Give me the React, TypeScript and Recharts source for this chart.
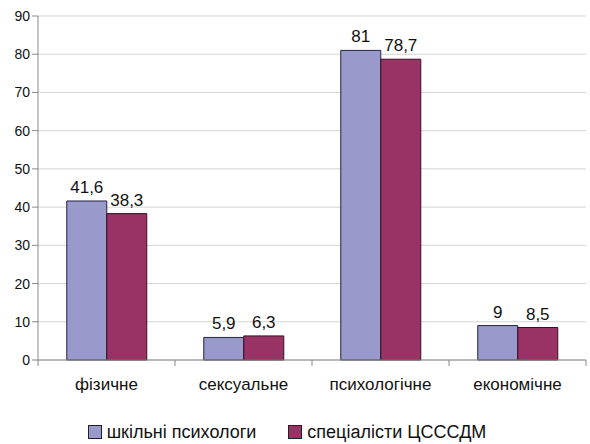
import React from 'react';
import { BarChart, Bar, XAxis, YAxis, CartesianGrid, Legend, LabelList } from 'recharts';

const categories = ['фізичне', 'сексуальне', 'психологічне', 'економічне'];
const schoolPsychologists = [41.6, 5.9, 81, 9];
const centerSpecialists = [38.3, 6.3, 78.7, 8.5];
const yTicks = [0, 10, 20, 30, 40, 50, 60, 70, 80, 90];
const seriesNames = ['шкільні психологи', 'спеціалісти ЦСССДМ'];
const seriesColors = ['#9999cc', '#993366'];

const data = categories.map((name, i) => ({
  name,
  school: schoolPsychologists[i],
  center: centerSpecialists[i],
}));

const font = '"Liberation Sans", Arial, sans-serif';
const fmt = (v: any) => String(v).replace('.', ',');

const CategoryTick = (props: any) => {
  const { x, y, payload, index } = props;
  const half = 137 / 2;
  return (
    <g>
      <line x1={x - half} y1={y - 8} x2={x - half} y2={y - 2} stroke="#888" />
      {index === categories.length - 1 && (
        <line x1={x + half} y1={y - 8} x2={x + half} y2={y - 2} stroke="#888" />
      )}
      <text x={x} y={y + 22} textAnchor="middle" fontSize={17} fill="#111" fontFamily={font}>
        {payload.value}
      </text>
    </g>
  );
};

const LegendContent = () => (
  <div
    style={{
      height: 40,
      display: 'flex',
      alignItems: 'flex-end',
      justifyContent: 'center',
      fontFamily: font,
      fontSize: 18,
      color: '#111',
      paddingRight: 12,
      boxSizing: 'border-box',
    }}
  >
    {seriesNames.map((n, i) => (
      <div
        key={n}
        style={{
          display: 'flex',
          alignItems: 'center',
          marginRight: i === 0 ? 32 : 0,
          lineHeight: '20px',
          marginBottom: 2,
        }}
      >
        <span
          style={{
            display: 'inline-block',
            width: 12,
            height: 12,
            background: seriesColors[i],
            border: '1px solid #222',
            marginRight: 5,
          }}
        />
        <span>{n}</span>
      </div>
    ))}
  </div>
);

export default function App() {
  return (
    <div style={{ position: 'absolute', left: 0, top: 0, background: '#fff' }}>
      <BarChart
        width={590}
        height={444}
        data={data}
        margin={{ top: 16, right: 4, left: 0, bottom: 0 }}
        barCategoryGap="21%"
        barGap={0}
      >
        <CartesianGrid vertical={false} stroke="#d4d4d4" />
        <XAxis
          dataKey="name"
          stroke="#888"
          tickLine={false}
          tick={<CategoryTick />}
          height={44}
          interval={0}
        />
        <YAxis
          domain={[0, 90]}
          ticks={yTicks}
          width={38}
          stroke="#888"
          tickSize={6}
          tick={{ fontSize: 14, fill: '#111', fontFamily: font }}
        />
        <Legend content={<LegendContent />} verticalAlign="bottom" />
        <Bar
          dataKey="school"
          name={seriesNames[0]}
          fill={seriesColors[0]}
          stroke="#222244"
          strokeWidth={1}
          isAnimationActive={false}
        >
          <LabelList
            dataKey="school"
            position="top"
            offset={8}
            formatter={fmt}
            style={{ fontSize: 17, fill: '#111', fontFamily: font }}
          />
        </Bar>
        <Bar
          dataKey="center"
          name={seriesNames[1]}
          fill={seriesColors[1]}
          stroke="#331122"
          strokeWidth={1}
          isAnimationActive={false}
        >
          <LabelList
            dataKey="center"
            position="top"
            offset={8}
            formatter={fmt}
            style={{ fontSize: 17, fill: '#111', fontFamily: font }}
          />
        </Bar>
      </BarChart>
    </div>
  );
}
